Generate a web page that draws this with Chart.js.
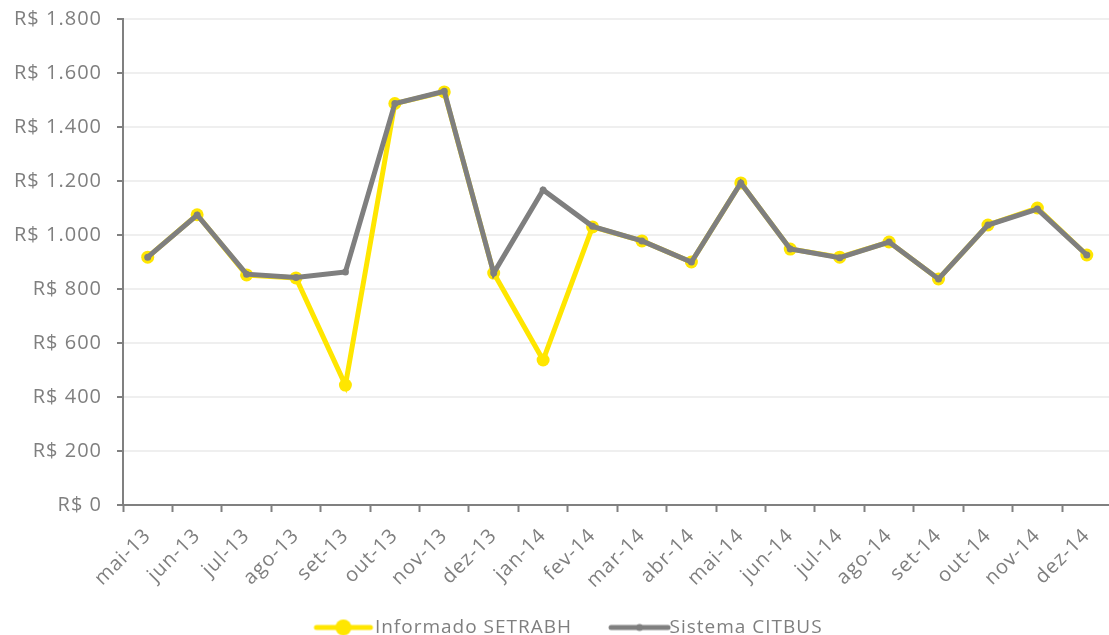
<!DOCTYPE html>
<html>
<head>
<meta charset="utf-8">
<script src="https://cdn.jsdelivr.net/npm/chart.js@4"></script>
<style>
    html, body { margin: 0; padding: 0; background: #fff; overflow: hidden; }
</style>
</head>
<body>
<canvas id="grafico" width="1118" height="647"></canvas>
<script>
// dados
const meses = ['mai-13', 'jun-13', 'jul-13', 'ago-13', 'set-13', 'out-13', 'nov-13', 'dez-13', 'jan-14', 'fev-14',
    'mar-14', 'abr-14', 'mai-14', 'jun-14', 'jul-14', 'ago-14', 'set-14', 'out-14', 'nov-14', 'dez-14'];
const informadoSetrabh = [918, 1075, 852, 841, 444, 1487, 1530, 859, 537, 1030, 978, 900, 1193, 948, 918, 974, 837, 1037, 1100, 926];
const sistemaCitbus = [918, 1074, 855, 843, 863, 1487, 1532, 859, 1167, 1032, 978, 900, 1193, 948, 916, 974, 837, 1037, 1096, 926];
const nomesSeries = ['Informado SETRABH', 'Sistema CITBUS'];

const AMARELO = '#FFE600';
const CINZA = '#7F7F7F';
const fonte = 'Open Sans';

function formatarReais(valor) {
    let txt = String(valor);
    if (valor >= 1000) {
        txt = Math.floor(valor / 1000) + '.' + String(valor % 1000).padStart(3, '0');
    }
    return 'R$ ' + txt;
}

// simbolo da legenda: linha com marcador no meio (deslocado para a direita)
function simboloLegenda(cor, raio, ini, fim) {
    const c = document.createElement('canvas');
    c.width = 96;
    c.height = 18;
    const g = c.getContext('2d');
    g.strokeStyle = cor;
    g.lineWidth = 5;
    g.lineCap = 'round';
    g.beginPath();
    g.moveTo(ini, 9);
    g.lineTo(fim, 9);
    g.stroke();
    g.fillStyle = cor;
    g.beginPath();
    g.arc((ini + fim) / 2, 9, raio, 0, Math.PI * 2);
    g.fill();
    return c;
}
const simbolos = [simboloLegenda(AMARELO, 8, 34, 88), simboloLegenda(CINZA, 3.5, 34, 91)];

// espacamento entre letras, parecido com a fonte original
const espacamento = {
    id: 'espacamento',
    beforeLayout(chart) { chart.ctx.letterSpacing = '1px'; },
    beforeDraw(chart) { chart.ctx.letterSpacing = '1px'; }
};

const ctx = document.getElementById('grafico').getContext('2d');
new Chart(ctx, {
    type: 'line',
    data: {
        labels: meses,
        datasets: [
            {
                label: nomesSeries[0],
                data: informadoSetrabh,
                borderColor: AMARELO,
                backgroundColor: AMARELO,
                borderWidth: 5,
                pointRadius: 6.5,
                pointBorderWidth: 0,
                pointBackgroundColor: AMARELO,
                tension: 0,
                order: 2
            },
            {
                label: nomesSeries[1],
                data: sistemaCitbus,
                borderColor: CINZA,
                backgroundColor: CINZA,
                borderWidth: 5,
                pointRadius: 3.5,
                pointBorderWidth: 0,
                pointBackgroundColor: CINZA,
                tension: 0,
                order: 1
            }
        ]
    },
    options: {
        responsive: false,
        animation: false,
        layout: { padding: { top: 19, right: 0, left: 0, bottom: 0 } },
        plugins: {
            tooltip: { enabled: false },
            legend: {
                position: 'bottom',
                labels: {
                    usePointStyle: true,
                    pointStyleWidth: 70,
                    padding: 18,
                    color: CINZA,
                    font: { family: fonte, size: 19 },
                    generateLabels(chart) {
                        const itens = Chart.defaults.plugins.legend.labels.generateLabels(chart);
                        itens.sort((a, b) => a.datasetIndex - b.datasetIndex);
                        itens.forEach(item => { item.pointStyle = simbolos[item.datasetIndex]; });
                        return itens;
                    }
                }
            }
        },
        scales: {
            x: {
                offset: true,
                grid: { offset: true, drawOnChartArea: false, tickColor: '#808080', tickLength: 7, tickWidth: 2 },
                border: { color: '#808080', width: 2 },
                ticks: {
                    autoSkip: false,
                    maxRotation: 45,
                    minRotation: 45,
                    padding: 12,
                    color: CINZA,
                    font: { family: fonte, size: 20 }
                },
                afterFit(scale) { scale.height = 95; }
            },
            y: {
                min: 0,
                max: 1800,
                ticks: {
                    stepSize: 200,
                    padding: 15,
                    color: CINZA,
                    font: { family: fonte, size: 20 },
                    callback: formatarReais
                },
                grid: { color: '#EFEFEF', lineWidth: 2, tickColor: '#808080', tickLength: 6, tickWidth: 2 },
                border: { color: '#808080', width: 2 },
                afterFit(scale) {
                    scale.width = 123;
                    scale.paddingTop = 0;
                    scale.paddingBottom = 0;
                }
            }
        }
    },
    plugins: [espacamento]
});
</script>
</body>
</html>
